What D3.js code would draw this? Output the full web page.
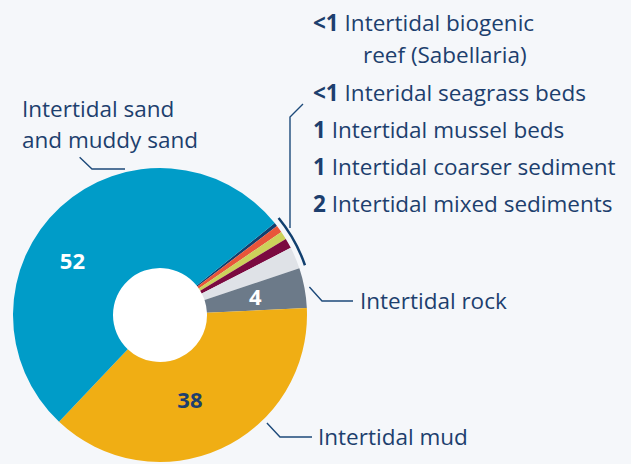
<!DOCTYPE html>
<html>
<head>
<meta charset="utf-8">
<script src="https://cdn.jsdelivr.net/npm/d3@7"></script>
<style>
  html, body { margin: 0; padding: 0; background: #f5f7fa; }
  svg { display: block; }
  text { font-family: "Open Sans", sans-serif; fill: #1d3f6e; }
</style>
</head>
<body>
<div id="chart"></div>
<script>
// share of intertidal habitat types, percent
const categories = [
    "Intertidal biogenic reef (Sabellaria)",
    "Interidal seagrass beds",
    "Intertidal mussel beds",
    "Intertidal coarser sediment",
    "Intertidal mixed sediments",
    "Intertidal rock",
    "Intertidal mud",
    "Intertidal sand and muddy sand"
];
const values = [0.4, 0.8, 0.9, 1.1, 2.4, 4.4, 37.8, 52.2];
const valueLabels = ["<1", "<1", "1", "1", "2", "4", "38", "52"];
const colors = ["#12406f", "#e8553a", "#ccd15a", "#7b0a40", "#dfe2e7", "#6c7a89", "#f0ae14", "#009cc8"];

// small habitats listed on the right (top to bottom)
const smallLegend = [
    { value: "<1", lines: ["Intertidal biogenic", "reef (Sabellaria)"] },
    { value: "<1", lines: ["Interidal seagrass beds"] },
    { value: "1", lines: ["Intertidal mussel beds"] },
    { value: "1", lines: ["Intertidal coarser sediment"] },
    { value: "2", lines: ["Intertidal mixed sediments"] }
];

const width = 631, height = 464;
const cx = 160, cy = 315;
const innerR = 47, outerR = 147;
const deg = Math.PI / 180;
const fontSize = "22.5px";

const svg = d3.select("#chart").append("svg")
    .attr("width", width)
    .attr("height", height);

const pie = d3.pie()
    .sort(null)
    .value(d => d)
    .startAngle(51.3 * deg)
    .endAngle(411.3 * deg);

const arcs = pie(values);

const arc = d3.arc().innerRadius(innerR).outerRadius(outerR);

const g = svg.append("g").attr("transform", `translate(${cx},${cy})`);

g.append("circle").attr("r", innerR).attr("fill", "#ffffff");

g.selectAll("path.slice")
    .data(arcs)
    .enter()
    .append("path")
    .attr("class", "slice")
    .attr("d", arc)
    .attr("fill", (d, i) => colors[i]);

// bracket over the five small slices
const bracket = d3.arc()
    .innerRadius(152)
    .outerRadius(154.5)
    .startAngle(arcs[0].startAngle - 0.6 * deg)
    .endAngle(arcs[4].endAngle - 0.4 * deg);
g.append("path").attr("d", bracket()).attr("fill", "#12406f");

const lineColor = "#1d4a7a";
function leader(points) {
    svg.append("path")
        .attr("d", d3.line()(points))
        .attr("fill", "none")
        .attr("stroke", lineColor)
        .attr("stroke-width", 1.4);
}

// leader for the bracket
leader([[290, 228], [290, 117], [303, 104]]);

// rock leader, from the middle of the rock slice
const rockMid = (arcs[5].startAngle + arcs[5].endAngle) / 2;
const rp = d3.pointRadial(rockMid, 152);
leader([[cx + rp[0], cy + rp[1]], [322, 301], [353, 301]]);

// mud leader
const mp = d3.pointRadial(135.3 * deg, 152);
leader([[cx + mp[0], cy + mp[1]], [280, 437], [312, 437]]);

// sand leader
const sp = d3.pointRadial(333 * deg, 177);
leader([[cx + sp[0], cy + sp[1]], [92, 169], [125, 169]]);

// outer labels
const outerLabels = [
    { x: 360, y: 301, lines: [categories[5]] },
    { x: 318, y: 437, lines: [categories[6]] },
    { x: 22, y: 109, lines: ["Intertidal sand", "and muddy sand"] }
];
outerLabels.forEach(l => {
    l.lines.forEach((t, j) => {
        svg.append("text")
            .attr("x", l.x)
            .attr("y", l.y + j * 31)
            .attr("dy", "0.35em")
            .style("font-size", fontSize)
            .text(t);
    });
});

// legend of the small slices
smallLegend.forEach((d, i) => {
    const y = 23 + (i === 0 ? 0 : 33 + i * 37);
    const t = svg.append("text")
        .attr("x", 313)
        .attr("y", y)
        .attr("dy", "0.35em")
        .style("font-size", fontSize);
    t.append("tspan").style("font-weight", "bold").text(d.value);
    t.append("tspan").text(" " + d.lines[0]);
    if (d.lines[1]) {
        svg.append("text")
            .attr("x", 363)
            .attr("y", y + 32)
            .attr("dy", "0.35em")
            .style("font-size", fontSize)
            .text(d.lines[1]);
    }
});

// values inside the ring
const inner = [
    { i: 7, angle: 301.4 * deg, r: 102.6, color: "#ffffff" },
    { i: 6, angle: 160.6 * deg, r: 90, color: "#1d3f6e" },
    { i: 5, angle: rockMid, r: 97, color: "#ffffff" }
];
inner.forEach(d => {
    const p = d3.pointRadial(d.angle, d.r);
    g.append("text")
        .attr("x", p[0])
        .attr("y", p[1])
        .attr("dy", "0.35em")
        .attr("text-anchor", "middle")
        .style("font-size", "22px")
        .style("font-weight", "bold")
        .style("fill", d.color)
        .text(valueLabels[d.i]);
});
</script>
</body>
</html>
